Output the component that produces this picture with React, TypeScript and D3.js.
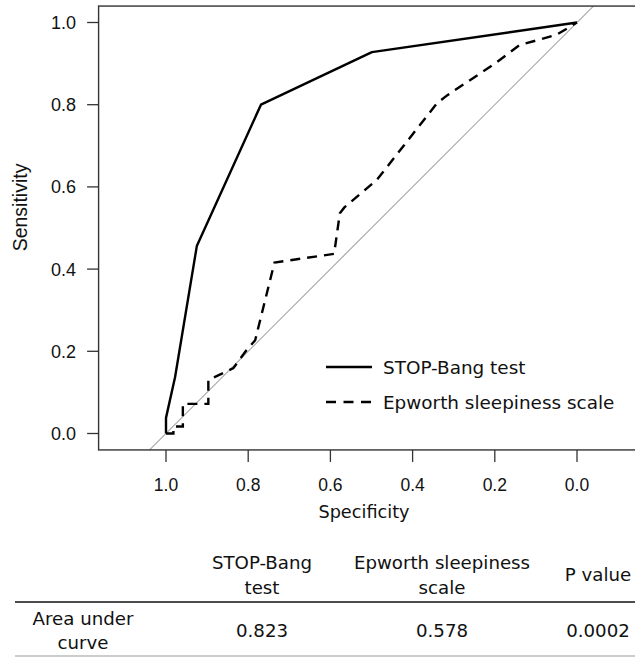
import React from 'react';
import * as d3 from 'd3';

// ROC points (specificity, sensitivity)
const stopBangSpec = [1, 1, 0.978, 0.925, 0.769, 0.499, 0];
const stopBangSens = [0, 0.038, 0.137, 0.456, 0.8, 0.928, 1];

const epworthSpec = [1, 0.982, 0.982, 0.959, 0.959, 0.897, 0.897, 0.836, 0.804, 0.783, 0.736, 0.591, 0.577, 0.566, 0.487, 0.341, 0.317, 0.2, 0.14, 0.05, 0];
const epworthSens = [0, 0, 0.017, 0.017, 0.072, 0.072, 0.13, 0.159, 0.203, 0.227, 0.416, 0.437, 0.536, 0.55, 0.617, 0.803, 0.822, 0.9, 0.945, 0.97, 1];

const xTicks = [1.0, 0.8, 0.6, 0.4, 0.2, 0.0];
const yTicks = [0.0, 0.2, 0.4, 0.6, 0.8, 1.0];

const legendLabels = ['STOP-Bang test', 'Epworth sleepiness scale'];

const tableHeader = [[''], ['STOP-Bang', 'test'], ['Epworth sleepiness', 'scale'], ['P value']];
const tableRow = [['Area under', 'curve'], ['0.823'], ['0.578'], ['0.0002']];

const W = 635;
const H = 657;

const App = () => {
  const x = d3.scaleLinear().domain([1, 0]).range([166, 577]);
  const y = d3.scaleLinear().domain([0, 1]).range([433.5, 22.5]);

  const left = x(1.164);
  const right = x(-0.164);
  const top = y(1.04);
  const bottom = y(-0.04);

  const line = d3.line<[number, number]>().x(d => x(d[0])).y(d => y(d[1]));
  const stopPts = stopBangSpec.map((s, i) => [s, stopBangSens[i]] as [number, number]);
  const epPts = epworthSpec.map((s, i) => [s, epworthSens[i]] as [number, number]);

  const axisColor = '#333';
  const sansA = '"Liberation Sans", Arial, sans-serif';
  const sansB = '"DejaVu Sans", Verdana, sans-serif';

  const colX = [83, 262, 442, 598];
  const tableFont = 18.2;

  return (
    <svg width={W} height={H} style={{ position: 'absolute', left: 0, top: 0, background: '#fff' }}>
      {/* chance line */}
      <line x1={x(1.04)} y1={y(-0.04)} x2={x(-0.04)} y2={y(1.04)} stroke="#aaa" strokeWidth={1.2} />

      {/* plot box */}
      <rect x={left} y={top} width={right - left} height={bottom - top} fill="none" stroke={axisColor} strokeWidth={1.4} />

      {/* y axis */}
      {yTicks.map(t => (
        <g key={'y' + t}>
          <line x1={left - 11.5} x2={left} y1={y(t)} y2={y(t)} stroke={axisColor} strokeWidth={1.3} />
          <text x={76} y={y(t)} dy="0.36em" textAnchor="end" fontFamily={sansA} fontSize={18} fill="#111">
            {d3.format('.1f')(t)}
          </text>
        </g>
      ))}
      <text transform={`translate(27,${y(0.55)}) rotate(-90)`} textAnchor="middle" fontFamily={sansA} fontSize={19.5} fill="#111">
        Sensitivity
      </text>

      {/* x axis */}
      {xTicks.map(t => (
        <g key={'x' + t}>
          <line x1={x(t)} x2={x(t)} y1={bottom} y2={bottom + 12} stroke={axisColor} strokeWidth={1.3} />
          <text x={x(t)} y={485} dy="0.36em" textAnchor="middle" fontFamily={sansA} fontSize={17.5} fill="#111">
            {d3.format('.1f')(t)}
          </text>
        </g>
      ))}
      <text x={364} y={512} dy="0.36em" textAnchor="middle" fontFamily={sansB} fontSize={17.7} fill="#111">
        Specificity
      </text>

      {/* curves */}
      <path d={line(stopPts) || ''} fill="none" stroke="#000" strokeWidth={2.4} strokeLinejoin="round" />
      <path d={line(epPts) || ''} fill="none" stroke="#000" strokeWidth={2.4} strokeDasharray="10,7" />

      {/* legend */}
      {legendLabels.map((lab, i) => (
        <g key={lab}>
          <line x1={326} x2={372} y1={367 + i * 35} y2={367 + i * 35} stroke="#000" strokeWidth={2.4}
            strokeDasharray={i === 1 ? '10,7.5' : undefined} />
          <text x={383} y={367 + i * 35} dy="0.36em" fontFamily={sansB} fontSize={18.4} fill="#111">{lab}</text>
        </g>
      ))}

      {/* table */}
      {tableHeader.map((cell, i) => (
        <text key={'h' + i} x={colX[i]} y={cell.length > 1 ? 562 : 574} textAnchor="middle" fontFamily={sansB} fontSize={tableFont} fill="#111">
          {cell.map((s, j) => (
            <tspan key={j} x={colX[i]} dy={j === 0 ? '0.36em' : 25}>{s}</tspan>
          ))}
        </text>
      ))}
      <line x1={15} x2={W} y1={602} y2={602} stroke="#111" strokeWidth={1.5} />
      {tableRow.map((cell, i) => (
        <text key={'r' + i} x={colX[i]} y={cell.length > 1 ? 618 : 630} textAnchor="middle" fontFamily={sansB} fontSize={tableFont} fill="#111">
          {cell.map((s, j) => (
            <tspan key={j} x={colX[i]} dy={j === 0 ? '0.36em' : 24}>{s}</tspan>
          ))}
        </text>
      ))}
      <line x1={15} x2={W} y1={656} y2={656} stroke="#bbb" strokeWidth={1.3} />
    </svg>
  );
};

export default App;
